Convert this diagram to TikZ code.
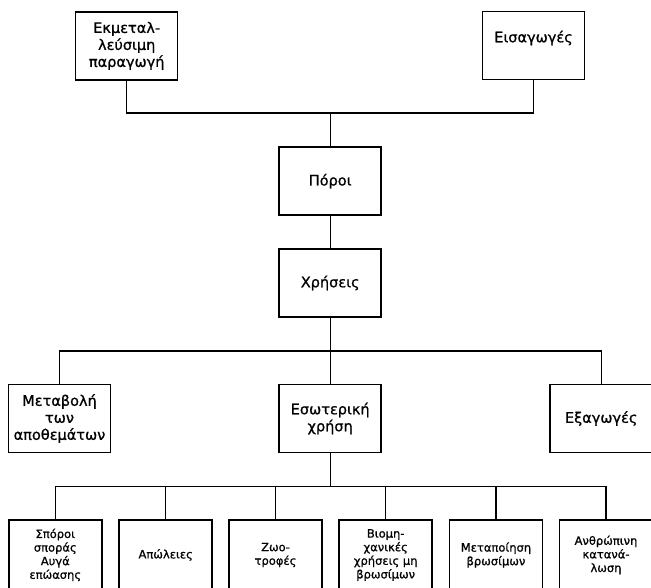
\documentclass[tikz,border=0pt]{standalone}
\usepackage{fontspec}
\setmainfont{DejaVu Sans}[BoldFont=DejaVu Sans, BoldFeatures={FakeBold=0.9}]
\begin{document}
\begin{tikzpicture}[x=1pt,y=-1pt,
  box/.style={draw, line width=1.5pt, minimum width=102pt, minimum height=68pt, inner sep=0pt, align=center, font=\fontsize{14.5}{17}\selectfont\bfseries},
  sbox/.style={draw, line width=1.5pt, minimum width=93pt, minimum height=70pt, inner sep=0pt, align=center, font=\fontsize{11.5}{13.6}\selectfont\bfseries},
  lbl/.style={inner sep=0pt, font=\fontsize{14.5}{17}\selectfont\bfseries},
  conn/.style={line width=1.3pt}]
\useasboundingbox (0,0) rectangle (651,588);
\node[box] (ekm) at (126.7,45.9) {Εκμεταλ-\\λεύσιμη\\παραγωγή};
\node[box] (eis) at (533.5,45.5) {};
\node[lbl] (eist) at (533.5,38) {Εισαγωγές};
\node[box] (por) at (330.2,181.2) {Πόροι};
\node[box] (xri) at (330.2,283) {Χρήσεις};
\node[box] (met) at (59.5,418.5) {Μεταβολή\\των\\αποθεμάτων};
\node[box] (eso) at (330.2,418.5) {Εσωτερική\\χρήση};
\node[box] (exa) at (601.2,418.5) {Εξαγωγές};
\node[sbox] (b1) at (55.3,555) {Σπόροι\\σποράς\\Αυγά\\επώασης};
\node[sbox] (b2) at (165.7,555) {Απώλειες};
\node[sbox] (b3) at (275.5,555) {Ζωο-\\τροφές};
\node[sbox] (b4) at (385.7,555) {Βιομη-\\χανικές\\χρήσεις μη\\βρωσίμων};
\node[sbox] (b5) at (496,555) {Μεταποίηση\\βρωσίμων};
\node[sbox] (b6) at (606,555) {Ανθρώπινη\\κατανά-\\λωση};
\coordinate (j1) at (330.2,113);
\coordinate (j2) at (330.2,351);
\coordinate (j3) at (330.2,486.5);
\draw[conn] (ekm.south) |- (j1) -| (eis.south);
\draw[conn] (j1) -- (por.north);
\draw[conn] (por.south) -- (xri.north);
\draw[conn] (met.north) |- (j2) -| (exa.north);
\draw[conn] (xri.south) -- (eso.north);
\draw[conn] (eso.south) -- (j3);
\draw[conn] (b1.north) |- (j3) -| (b6.north);
\draw[conn] (b2.north) -- (b2.north |- j3);
\draw[conn] (b3.north) -- (b3.north |- j3);
\draw[conn] (b4.north) -- (b4.north |- j3);
\draw[conn] (b5.north) -- (b5.north |- j3);
\end{tikzpicture}
\end{document}
